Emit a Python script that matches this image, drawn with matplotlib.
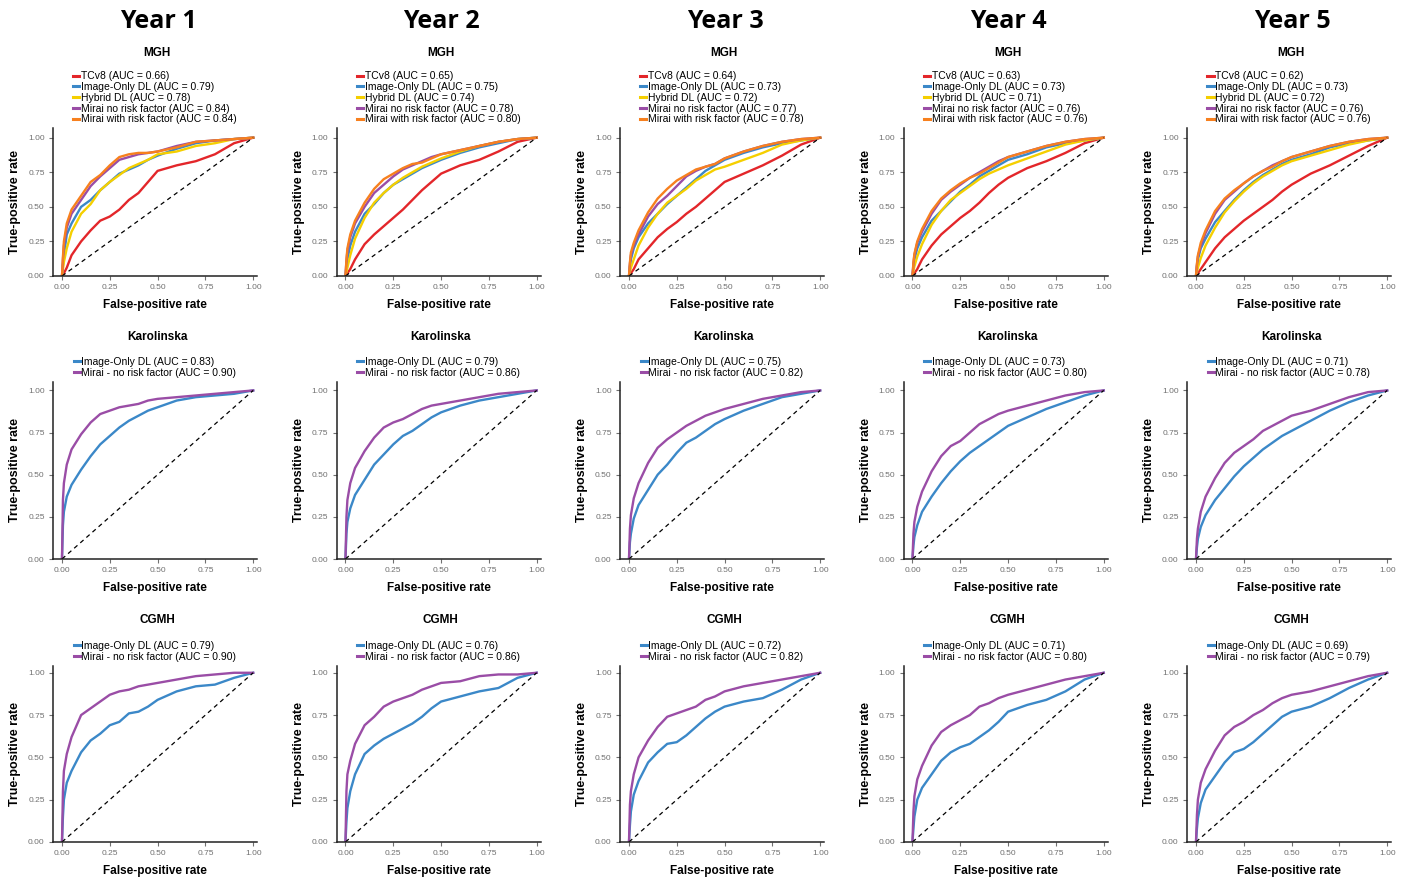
import matplotlib
matplotlib.use('Agg')
import matplotlib.pyplot as plt

plt.rcParams['font.family'] = ['Liberation Sans', 'DejaVu Sans']

W, H = 1404, 877

years = ['Year 1', 'Year 2', 'Year 3', 'Year 4', 'Year 5']
sites = ['MGH', 'Karolinska', 'CGMH']
mgh_models = ['TCv8', 'Image-Only DL', 'Hybrid DL', 'Mirai no risk factor', 'Mirai with risk factor']
ext_models = ['Image-Only DL', 'Mirai - no risk factor']

mgh_auc = [[0.66, 0.79, 0.78, 0.84, 0.84],
           [0.65, 0.75, 0.74, 0.78, 0.80],
           [0.64, 0.73, 0.72, 0.77, 0.78],
           [0.63, 0.73, 0.71, 0.76, 0.76],
           [0.62, 0.73, 0.72, 0.76, 0.76]]
kar_auc = [[0.83, 0.90], [0.79, 0.86], [0.75, 0.82], [0.73, 0.80], [0.71, 0.78]]
cgmh_auc = [[0.79, 0.90], [0.76, 0.86], [0.72, 0.82], [0.71, 0.80], [0.69, 0.79]]

fpr = [0, 0.005, 0.01, 0.025, 0.05, 0.1, 0.15, 0.2, 0.25, 0.3, 0.35, 0.4, 0.45, 0.5, 0.6, 0.7, 0.8, 0.9, 1.0]

# true-positive rates, one list per year
mgh_tcv8 = [
    [0, 0.01, 0.02, 0.06, 0.15, 0.25, 0.33, 0.40, 0.43, 0.48, 0.55, 0.60, 0.68, 0.76, 0.80, 0.83, 0.88, 0.96, 1],
    [0, 0.01, 0.02, 0.05, 0.12, 0.23, 0.30, 0.36, 0.42, 0.48, 0.55, 0.62, 0.68, 0.74, 0.80, 0.84, 0.90, 0.97, 1],
    [0, 0.01, 0.02, 0.05, 0.12, 0.20, 0.28, 0.34, 0.39, 0.45, 0.50, 0.56, 0.62, 0.68, 0.74, 0.80, 0.87, 0.95, 1],
    [0, 0.01, 0.02, 0.05, 0.12, 0.22, 0.30, 0.36, 0.42, 0.47, 0.53, 0.60, 0.66, 0.71, 0.78, 0.83, 0.89, 0.96, 1],
    [0, 0.01, 0.02, 0.05, 0.10, 0.20, 0.28, 0.34, 0.40, 0.45, 0.50, 0.55, 0.61, 0.66, 0.74, 0.80, 0.87, 0.94, 1],
]
mgh_image = [
    [0, 0.08, 0.15, 0.30, 0.38, 0.50, 0.55, 0.62, 0.68, 0.74, 0.77, 0.80, 0.84, 0.87, 0.92, 0.96, 0.98, 0.99, 1],
    [0, 0.07, 0.12, 0.22, 0.32, 0.45, 0.52, 0.60, 0.66, 0.70, 0.74, 0.78, 0.81, 0.84, 0.89, 0.93, 0.96, 0.99, 1],
    [0, 0.07, 0.12, 0.20, 0.28, 0.38, 0.45, 0.52, 0.58, 0.64, 0.70, 0.76, 0.80, 0.84, 0.89, 0.93, 0.96, 0.98, 1],
    [0, 0.07, 0.12, 0.20, 0.28, 0.40, 0.47, 0.54, 0.61, 0.66, 0.72, 0.76, 0.80, 0.84, 0.88, 0.93, 0.96, 0.98, 1],
    [0, 0.07, 0.12, 0.20, 0.27, 0.39, 0.47, 0.55, 0.62, 0.68, 0.73, 0.77, 0.81, 0.84, 0.88, 0.93, 0.96, 0.98, 1],
]
mgh_hybrid = [
    [0, 0.05, 0.10, 0.20, 0.32, 0.45, 0.52, 0.62, 0.68, 0.73, 0.78, 0.81, 0.84, 0.88, 0.90, 0.94, 0.96, 0.99, 1],
    [0, 0.03, 0.06, 0.15, 0.27, 0.42, 0.53, 0.60, 0.66, 0.71, 0.75, 0.79, 0.82, 0.85, 0.90, 0.94, 0.97, 0.99, 1],
    [0, 0.03, 0.06, 0.12, 0.22, 0.35, 0.45, 0.53, 0.58, 0.63, 0.69, 0.73, 0.77, 0.79, 0.84, 0.89, 0.95, 0.98, 1],
    [0, 0.04, 0.07, 0.14, 0.23, 0.37, 0.47, 0.55, 0.60, 0.65, 0.70, 0.74, 0.77, 0.80, 0.85, 0.90, 0.95, 0.98, 1],
    [0, 0.03, 0.06, 0.13, 0.22, 0.35, 0.46, 0.54, 0.61, 0.67, 0.72, 0.76, 0.80, 0.83, 0.87, 0.91, 0.95, 0.98, 1],
]
mgh_mirai = [
    [0, 0.12, 0.22, 0.35, 0.45, 0.55, 0.65, 0.72, 0.78, 0.84, 0.86, 0.88, 0.89, 0.90, 0.94, 0.97, 0.98, 0.99, 1],
    [0, 0.11, 0.18, 0.28, 0.38, 0.50, 0.60, 0.66, 0.72, 0.77, 0.80, 0.83, 0.86, 0.88, 0.91, 0.94, 0.97, 0.99, 1],
    [0, 0.09, 0.15, 0.22, 0.30, 0.43, 0.52, 0.58, 0.65, 0.72, 0.76, 0.79, 0.81, 0.85, 0.90, 0.94, 0.97, 0.99, 1],
    [0, 0.09, 0.15, 0.24, 0.32, 0.45, 0.55, 0.61, 0.66, 0.71, 0.75, 0.79, 0.83, 0.86, 0.90, 0.94, 0.97, 0.99, 1],
    [0, 0.08, 0.14, 0.22, 0.31, 0.45, 0.55, 0.61, 0.67, 0.72, 0.76, 0.80, 0.83, 0.86, 0.90, 0.94, 0.97, 0.99, 1],
]
mgh_mirai_rf = [
    [0, 0.14, 0.25, 0.38, 0.48, 0.58, 0.68, 0.73, 0.80, 0.86, 0.88, 0.89, 0.89, 0.90, 0.93, 0.97, 0.98, 0.99, 1],
    [0, 0.12, 0.20, 0.30, 0.40, 0.53, 0.63, 0.70, 0.74, 0.78, 0.81, 0.82, 0.85, 0.88, 0.91, 0.94, 0.97, 0.99, 1],
    [0, 0.10, 0.17, 0.24, 0.33, 0.46, 0.56, 0.63, 0.69, 0.73, 0.77, 0.79, 0.81, 0.85, 0.90, 0.94, 0.97, 0.99, 1],
    [0, 0.10, 0.16, 0.25, 0.34, 0.47, 0.56, 0.62, 0.67, 0.71, 0.74, 0.78, 0.82, 0.86, 0.90, 0.94, 0.97, 0.99, 1],
    [0, 0.09, 0.15, 0.24, 0.33, 0.47, 0.56, 0.62, 0.67, 0.72, 0.76, 0.79, 0.83, 0.86, 0.90, 0.94, 0.97, 0.99, 1],
]
kar_image = [
    [0, 0.20, 0.28, 0.37, 0.44, 0.53, 0.61, 0.68, 0.73, 0.78, 0.82, 0.85, 0.88, 0.90, 0.94, 0.96, 0.97, 0.98, 1],
    [0, 0.15, 0.22, 0.30, 0.38, 0.47, 0.56, 0.62, 0.68, 0.73, 0.76, 0.80, 0.84, 0.87, 0.91, 0.94, 0.96, 0.98, 1],
    [0, 0.10, 0.15, 0.24, 0.32, 0.41, 0.50, 0.56, 0.63, 0.69, 0.72, 0.76, 0.80, 0.83, 0.88, 0.92, 0.96, 0.98, 1],
    [0, 0.08, 0.13, 0.20, 0.28, 0.37, 0.45, 0.52, 0.58, 0.63, 0.67, 0.71, 0.75, 0.79, 0.84, 0.89, 0.93, 0.97, 1],
    [0, 0.07, 0.12, 0.19, 0.26, 0.35, 0.42, 0.49, 0.55, 0.60, 0.65, 0.69, 0.73, 0.76, 0.82, 0.88, 0.93, 0.97, 1],
]
kar_mirai = [
    [0, 0.35, 0.45, 0.56, 0.65, 0.74, 0.81, 0.86, 0.88, 0.90, 0.91, 0.92, 0.94, 0.95, 0.96, 0.97, 0.98, 0.99, 1],
    [0, 0.25, 0.35, 0.45, 0.54, 0.64, 0.72, 0.78, 0.81, 0.83, 0.86, 0.89, 0.91, 0.92, 0.94, 0.96, 0.98, 0.99, 1],
    [0, 0.18, 0.26, 0.36, 0.45, 0.57, 0.66, 0.71, 0.75, 0.79, 0.82, 0.85, 0.87, 0.89, 0.92, 0.95, 0.97, 0.99, 1],
    [0, 0.15, 0.22, 0.31, 0.40, 0.52, 0.61, 0.67, 0.70, 0.75, 0.80, 0.83, 0.86, 0.88, 0.91, 0.94, 0.97, 0.99, 1],
    [0, 0.12, 0.18, 0.28, 0.37, 0.48, 0.57, 0.63, 0.67, 0.71, 0.76, 0.79, 0.82, 0.85, 0.88, 0.92, 0.96, 0.99, 1],
]
cgmh_image = [
    [0, 0.15, 0.25, 0.35, 0.42, 0.53, 0.60, 0.64, 0.69, 0.71, 0.76, 0.77, 0.80, 0.84, 0.89, 0.92, 0.93, 0.97, 1],
    [0, 0.12, 0.20, 0.30, 0.40, 0.52, 0.57, 0.61, 0.64, 0.67, 0.70, 0.74, 0.79, 0.83, 0.86, 0.89, 0.91, 0.97, 1],
    [0, 0.10, 0.18, 0.28, 0.36, 0.47, 0.53, 0.58, 0.59, 0.63, 0.68, 0.73, 0.77, 0.80, 0.83, 0.85, 0.90, 0.96, 1],
    [0, 0.08, 0.15, 0.25, 0.32, 0.40, 0.48, 0.53, 0.56, 0.58, 0.62, 0.66, 0.71, 0.77, 0.81, 0.84, 0.89, 0.96, 1],
    [0, 0.08, 0.14, 0.23, 0.31, 0.39, 0.47, 0.53, 0.55, 0.59, 0.64, 0.69, 0.74, 0.77, 0.80, 0.85, 0.91, 0.96, 1],
]
cgmh_mirai = [
    [0, 0.30, 0.42, 0.52, 0.62, 0.75, 0.79, 0.83, 0.87, 0.89, 0.90, 0.92, 0.93, 0.94, 0.96, 0.98, 0.99, 1.0, 1],
    [0, 0.30, 0.40, 0.48, 0.58, 0.69, 0.74, 0.80, 0.83, 0.85, 0.87, 0.90, 0.92, 0.94, 0.95, 0.98, 0.99, 0.99, 1],
    [0, 0.22, 0.30, 0.40, 0.50, 0.60, 0.68, 0.74, 0.76, 0.78, 0.80, 0.84, 0.86, 0.89, 0.92, 0.94, 0.96, 0.98, 1],
    [0, 0.18, 0.27, 0.37, 0.45, 0.57, 0.65, 0.69, 0.72, 0.75, 0.80, 0.82, 0.85, 0.87, 0.90, 0.93, 0.96, 0.98, 1],
    [0, 0.16, 0.25, 0.35, 0.43, 0.54, 0.63, 0.68, 0.71, 0.75, 0.78, 0.82, 0.85, 0.87, 0.89, 0.92, 0.95, 0.98, 1],
]

mgh_colors = ['#E3262A', '#3B88C8', '#F5CF00', '#9A4DA6', '#F7801E']
ext_colors = ['#3B88C8', '#9A4DA6']

# pixel layout: (axes top, axes bottom, title y, top of ylim)
rows = [(128, 276, 53, 1.07), (382, 559, 337, 1.05), (666, 842, 620, 1.04)]
col_left = [53, 336.5, 620, 903.5, 1187]
ax_w = 204

fig = plt.figure(figsize=(W / 100, H / 100), dpi=100)

for c, yr in enumerate(years):
    fig.text((col_left[c] + ax_w / 2 + 3) / W, 1 - 22 / H, yr, ha='center', va='center',
             fontsize=18, fontweight='bold', family=['Open Sans', 'DejaVu Sans'])
    panels = [
        (mgh_models, mgh_auc[c], [mgh_tcv8[c], mgh_image[c], mgh_hybrid[c], mgh_mirai[c], mgh_mirai_rf[c]], mgh_colors),
        (ext_models, kar_auc[c], [kar_image[c], kar_mirai[c]], ext_colors),
        (ext_models, cgmh_auc[c], [cgmh_image[c], cgmh_mirai[c]], ext_colors),
    ]
    for r, (models, aucs, curves, colors) in enumerate(panels):
        top, bot, ty, ymax = rows[r]
        ax = fig.add_axes([col_left[c] / W, 1 - bot / H, ax_w / W, (bot - top) / H])
        for name, auc, tpr, col in zip(models, aucs, curves, colors):
            ax.plot(fpr, tpr, color=col, lw=1.7, solid_joinstyle='round',
                    label=f'{name} (AUC = {auc:.2f})')
        ax.plot([0, 1], [0, 1], color='black', lw=0.9, ls=(0, (3.5, 3)))
        ax.set_xlim(-0.047, 1.02)
        ax.set_ylim(0, ymax)
        ax.set_xticks([0, 0.25, 0.5, 0.75, 1.0])
        ax.set_yticks([0, 0.25, 0.5, 0.75, 1.0])
        ax.set_xticklabels(['0.00', '0.25', '0.50', '0.75', '1.00'])
        ax.set_yticklabels(['0.00', '0.25', '0.50', '0.75', '1.00'])
        ax.tick_params(labelsize=6, labelcolor='#707070', color='#707070', length=3, width=0.8, pad=3)
        for s in ['top', 'right']:
            ax.spines[s].set_visible(False)
        for s in ['left', 'bottom']:
            ax.spines[s].set_linewidth(1.1)
            ax.spines[s].set_color('#222222')
        ax.set_xlabel('False-positive rate', fontsize=8.5, fontweight='bold', labelpad=5.5)
        ax.set_ylabel('True-positive rate', fontsize=9, fontweight='bold', labelpad=5)
        ax.legend(loc='lower center', bbox_to_anchor=(0.5, 1.025), frameon=False, fontsize=7.5,
                  handlelength=0.6, handletextpad=0.15, labelspacing=0.07, borderpad=0,
                  borderaxespad=0)
        for line in ax.get_legend().get_lines():
            line.set_linewidth(2.2)
        fig.text((col_left[c] + ax_w / 2 + 2) / W, 1 - ty / H, sites[r], ha='center', va='center',
                 fontsize=8.5, fontweight='bold')

fig.savefig('out.png', dpi=100)
